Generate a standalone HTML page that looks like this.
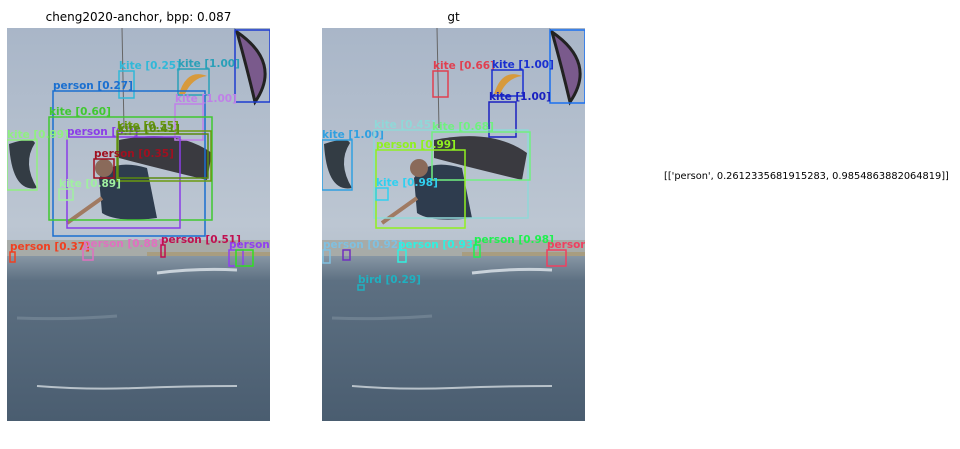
<!DOCTYPE html>
<html><head><meta charset="utf-8"><style>
body{margin:0;background:#fff;width:960px;height:449px;overflow:hidden;font-family:"DejaVu Sans","Liberation Sans",sans-serif;}
.title{position:absolute;font-size:12px;color:#000;text-align:center;width:263px;top:10px;}
.panel{position:absolute;top:28px;width:263px;height:393px;overflow:hidden;}
#txt{position:absolute;left:664px;top:171px;font-size:9.8px;color:#000;white-space:nowrap;}
</style></head><body>
<div class="title" style="left:7px">cheng2020-anchor, bpp: 0.087</div>
<div class="title" style="left:322px">gt</div>
<svg class="panel" id="p1" style="left:7px"></svg>
<svg class="panel" id="p2" style="left:322px"></svg>
<div id="txt">[['person', 0.2612335681915283, 0.9854863882064819]]</div>
<script>
const NS="http://www.w3.org/2000/svg";
const scene=`<defs><linearGradient id="sky" x1="0" y1="0" x2="0" y2="1">
<stop offset="0" stop-color="#a9b6c8"/><stop offset="0.5" stop-color="#bcc6d2"/><stop offset="0.6" stop-color="#b4bfcc"/></linearGradient>
<linearGradient id="sea" x1="0" y1="0" x2="0" y2="1"><stop offset="0" stop-color="#8796a4"/><stop offset="0.15" stop-color="#5d7082"/><stop offset="1" stop-color="#4a5d70"/></linearGradient></defs>
<rect x="0" y="0" width="263" height="393" fill="url(#sky)"/>
<rect x="0" y="212" width="263" height="16" fill="#a7aba8"/>
<rect x="140" y="224" width="123" height="6" fill="#a89d80"/>
<rect x="0" y="228" width="263" height="165" fill="url(#sea)"/>
<path d="M30 358 Q80 362 130 360 T230 358" stroke="#b8c2ca" stroke-width="2" fill="none"/>
<path d="M10 290 Q60 292 110 288" stroke="#6e8090" stroke-width="3" fill="none"/>
<path d="M150 245 Q190 240 230 242" stroke="#c9d2da" stroke-width="3" fill="none"/>
<path d="M230 4 Q275 35 248 74 Q240 40 230 4Z" fill="#7a5a8c" stroke="#222" stroke-width="3"/>
<path d="M2 116 Q25 108 28 115 Q15 135 30 160 Q5 165 2 116Z" fill="#333c44"/>
<path d="M172 66 Q180 40 200 48 Q185 50 178 66Z" fill="#d79a3c"/>
<path d="M112 112 Q170 100 205 125 L200 152 Q150 140 112 130Z" fill="#3a3a40"/>
<path d="M92 150 Q105 130 140 140 L150 190 Q110 195 95 185Z" fill="#2e3c4e"/>
<circle cx="97" cy="140" r="9" fill="#8a6a5a"/>
<path d="M60 195 L95 170" stroke="#a07a62" stroke-width="4"/>
<line x1="115" y1="0" x2="117" y2="100" stroke="#666" stroke-width="1"/>`;
const p1box=[[228,2,35,72,"#1e3cd0",""],[112,43,15,27,"#30b8d8","kite [0.25]"],[171,41,31,26,"#2aa0b8","kite [1.00]"],[46,63,152,145,"#1a6fd0","person [0.27]"],[168,76,28,36,"#c080e8","kite [1.00]"],[42,89,163,103,"#40c830","kite [0.60]"],[60,109,113,91,"#8a3ce8","person [0.?]"],[110,103,94,50,"#6a9a10","kite [0.55]"],[111,106,90,44,"#5a8a10","kite [0.41]"],[0,112,30,50,"#90f080","kite [0.99]"],[87,131,20,19,"#a01020","person [0.35]"],[52,161,14,11,"#a0f0a0","kite [0.89]"],[3,224,5,10,"#f04020","person [0.37]"],[76,221,10,11,"#e070c0","person [0.88]"],[154,217,4,12,"#c01050","person [0.51]"],[222,222,14,16,"#9040f0","person"],[229,222,17,16,"#30e020",""]];
const p2box=[[228,2,35,73,"#1a70f0",""],[111,43,15,26,"#e04050","kite [0.66]"],[170,42,31,26,"#1a30d0","kite [1.00]"],[167,74,27,35,"#1a20c0","kite [1.00]"],[0,112,30,50,"#30a0e0","kite [1.00]"],[52,102,154,88,"#90d8d8","kite [0.45]"],[110,104,98,48,"#70f080","kite [0.68]"],[54,122,89,78,"#90f020","person [0.99]"],[54,160,12,12,"#30d0f0","kite [0.98]"],[1,222,7,13,"#80c0e0","person [0.92]"],[21,222,7,10,"#7030c0",""],[76,222,8,12,"#30f0e0","person [0.93]"],[152,217,6,12,"#20f050","person [0.98]"],[225,222,19,16,"#f04060","person"],[36,257,6,5,"#20b0c0","bird [0.29]"]];
function draw(id,boxes){
 const s=document.getElementById(id);
 s.setAttribute("viewBox","0 0 263 393");
 s.innerHTML=scene;
 boxes.forEach(b=>{
  const r=document.createElementNS(NS,"rect");
  r.setAttribute("x",b[0]);r.setAttribute("y",b[1]);r.setAttribute("width",b[2]);r.setAttribute("height",b[3]);
  r.setAttribute("fill","none");r.setAttribute("stroke",b[4]);r.setAttribute("stroke-width","1.5");
  
  
  s.appendChild(r);
  if(b[5]){
   const t=document.createElementNS(NS,"text");
   t.setAttribute("x",b[0]);t.setAttribute("y",b[1]-2);t.setAttribute("fill",b[4]);
   t.setAttribute("font-size","10.5");t.setAttribute("font-weight","bold");
   t.setAttribute("font-family","DejaVu Sans, sans-serif");
   t.textContent=b[5];
   
   
   s.appendChild(t);
  }
 });
}
draw("p1",p1box);draw("p2",p2box);
</script>
</body></html>
